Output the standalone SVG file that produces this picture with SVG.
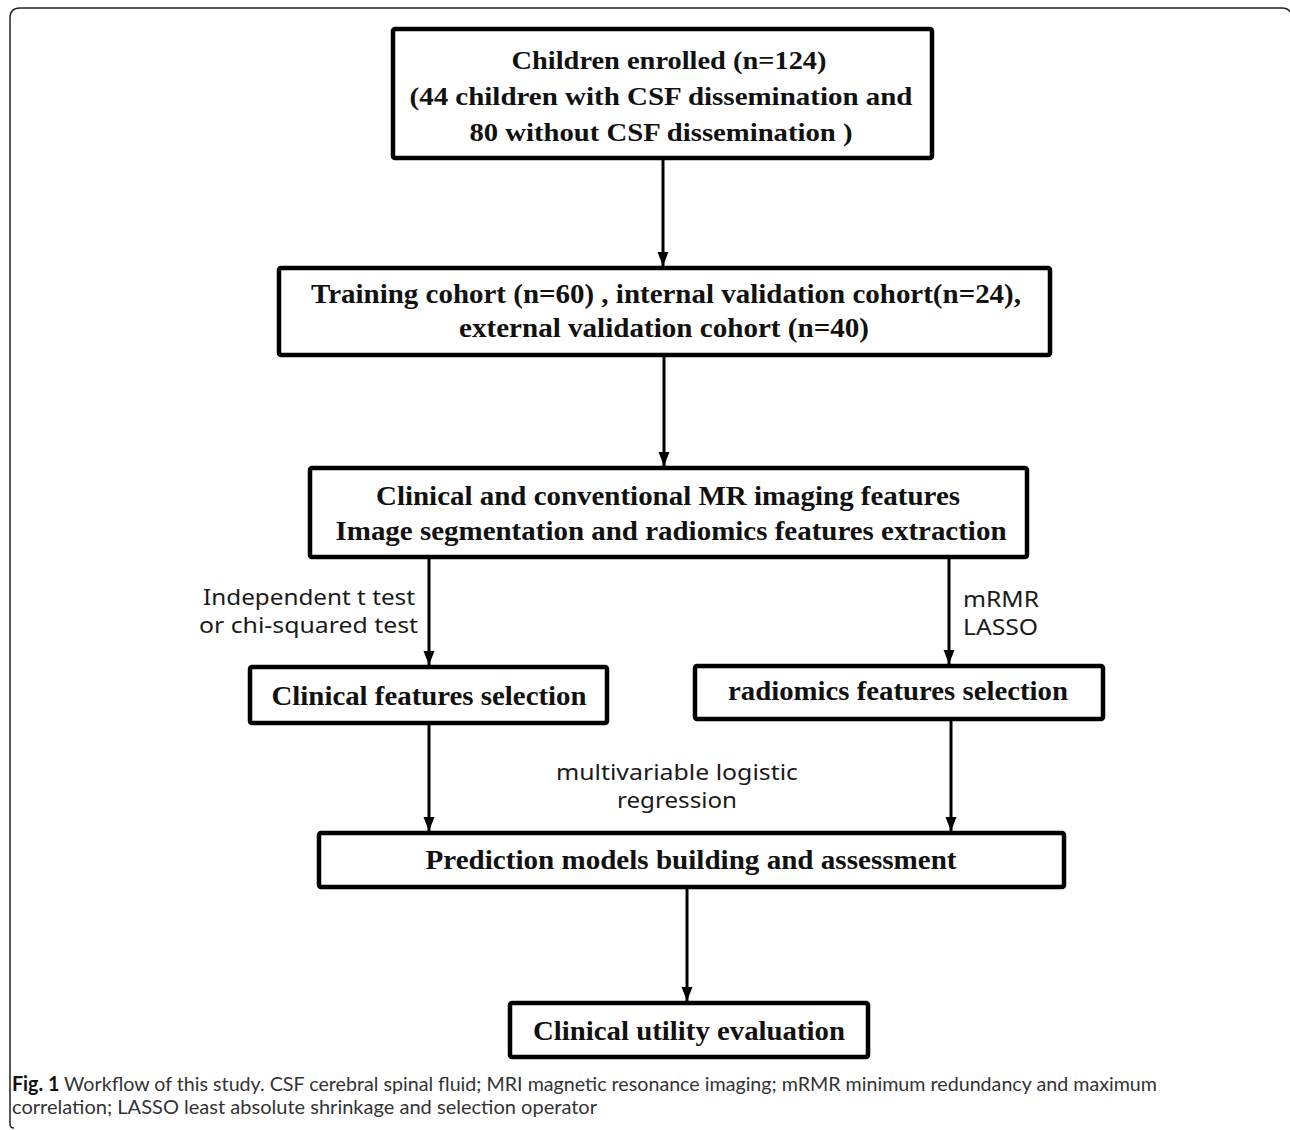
<svg xmlns="http://www.w3.org/2000/svg" width="1290" height="1130" viewBox="0 0 1290 1130">
<defs>
<marker id="ah" markerWidth="14" markerHeight="12" refX="14" refY="6" orient="auto" markerUnits="userSpaceOnUse">
<path d="M0,0.5 L14,6 L0,11.5 Z" fill="#000"/>
</marker>
<style>
.box{fill:#fff;stroke:#000;stroke-width:4.5;}
.bt{font-family:"Liberation Serif","Times New Roman",serif;font-weight:bold;fill:#111;text-anchor:middle;}
.lbl{font-family:"Noto Sans","Liberation Sans",Arial,sans-serif;font-size:21px;fill:#1a1a1a;}
.cap{font-family:"Lato","Liberation Sans",Arial,sans-serif;font-size:20px;fill:#333;}
.conn{stroke:#000;stroke-width:3;fill:none;marker-end:url(#ah);}
</style>
</defs>
<rect width="1290" height="1130" fill="#fff"/>
<path d="M14,1128 Q10,1128 10,1124 L10,18 Q10,8 20,8 L1282,8 Q1288,8 1290,12" fill="none" stroke="#222" stroke-width="1.5"/>

<g id="connectors">
<line class="conn" x1="663" y1="158" x2="663" y2="266"/>
<line class="conn" x1="664" y1="355" x2="664" y2="466"/>
<line class="conn" x1="429" y1="557" x2="429" y2="665"/>
<line class="conn" x1="949" y1="557" x2="949" y2="664"/>
<line class="conn" x1="429" y1="723" x2="429" y2="831"/>
<line class="conn" x1="951" y1="719" x2="951" y2="831"/>
<line class="conn" x1="687" y1="887" x2="687" y2="1001"/>
</g>

<g id="n1">
<rect class="box" x="393" y="29" width="539" height="129" rx="2"/>
<text class="bt" font-size="26" x="669" y="69" textLength="315" lengthAdjust="spacingAndGlyphs">Children enrolled (n=124)</text>
<text class="bt" font-size="26" x="661" y="105" textLength="503" lengthAdjust="spacingAndGlyphs">(44 children with CSF dissemination and</text>
<text class="bt" font-size="26" x="661" y="141" textLength="383" lengthAdjust="spacingAndGlyphs">80 without CSF dissemination )</text>
</g>

<g id="n2">
<rect class="box" x="279" y="268" width="771" height="87" rx="2"/>
<text class="bt" font-size="28" x="666" y="303" textLength="710" lengthAdjust="spacingAndGlyphs">Training cohort (n=60) , internal validation cohort(n=24),</text>
<text class="bt" font-size="28" x="664" y="337" textLength="410" lengthAdjust="spacingAndGlyphs">external validation cohort (n=40)</text>
</g>

<g id="n3">
<rect class="box" x="310" y="468" width="717" height="89" rx="2"/>
<text class="bt" font-size="27" x="668" y="505" textLength="584" lengthAdjust="spacingAndGlyphs">Clinical and conventional MR imaging features</text>
<text class="bt" font-size="27" x="671" y="540" textLength="671" lengthAdjust="spacingAndGlyphs">Image segmentation and radiomics features extraction</text>
</g>

<g id="n4">
<rect class="box" x="250" y="667" width="357" height="56" rx="2"/>
<text class="bt" font-size="28" x="429" y="705" textLength="315" lengthAdjust="spacingAndGlyphs">Clinical features selection</text>
</g>

<g id="n5">
<rect class="box" x="695" y="666" width="408" height="53" rx="2"/>
<text class="bt" font-size="27" x="898" y="700" textLength="340" lengthAdjust="spacingAndGlyphs">radiomics features selection</text>
</g>

<g id="n6">
<rect class="box" x="319" y="833" width="745" height="54" rx="2"/>
<text class="bt" font-size="27" x="691" y="869" textLength="531" lengthAdjust="spacingAndGlyphs">Prediction models building and assessment</text>
</g>

<g id="n7">
<rect class="box" x="510" y="1003" width="358" height="54" rx="2"/>
<text class="bt" font-size="28" x="689" y="1040" textLength="312" lengthAdjust="spacingAndGlyphs">Clinical utility evaluation</text>
</g>

<g id="labels">
<text class="lbl" x="203" y="605" textLength="212" lengthAdjust="spacingAndGlyphs">Independent t test</text>
<text class="lbl" x="199" y="633" textLength="219" lengthAdjust="spacingAndGlyphs">or chi-squared test</text>
<text class="lbl" x="963" y="607" textLength="76" lengthAdjust="spacingAndGlyphs">mRMR</text>
<text class="lbl" x="963" y="635" textLength="75" lengthAdjust="spacingAndGlyphs">LASSO</text>
<text class="lbl" x="556" y="780" textLength="242" lengthAdjust="spacingAndGlyphs">multivariable logistic</text>
<text class="lbl" x="617" y="808" textLength="120" lengthAdjust="spacingAndGlyphs">regression</text>
</g>

<g id="caption">
<text class="cap" x="12" y="1091" textLength="1145" lengthAdjust="spacingAndGlyphs"><tspan font-weight="bold" fill="#111">Fig. 1</tspan> Workflow of this study. CSF cerebral spinal fluid; MRI magnetic resonance imaging; mRMR minimum redundancy and maximum</text>
<text class="cap" x="12" y="1114" textLength="585" lengthAdjust="spacingAndGlyphs">correlation; LASSO least absolute shrinkage and selection operator</text>
</g>
</svg>
